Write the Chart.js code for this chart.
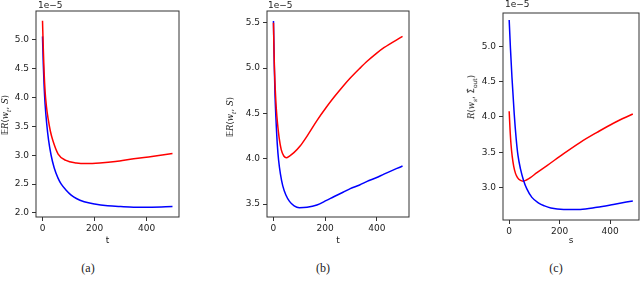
<!DOCTYPE html>
<html lang="en">
<head>
    <meta charset="UTF-8">
    <title>Risk curves</title>
    <script src="https://cdn.jsdelivr.net/npm/chart.js"></script>
    <style>
        body {
            margin: 0;
            background: #fff;
            font-family: 'DejaVu Sans', sans-serif;
        }
        #page {
            position: relative;
            width: 640px;
            height: 287px;
            overflow: hidden;
        }
        canvas, .txt {
            position: absolute;
        }
        .offset {
            font-size: 9px;
            color: #222;
        }
        .ylab {
            font-size: 8.5px;
            color: #222;
            white-space: nowrap;
            transform: translate(-50%, -50%) rotate(-90deg);
        }
        .ylab i { font-family: 'DejaVu Serif', serif; }
        .ylab sub { font-size: 6px; }
        .cap {
            font-family: 'Liberation Serif', 'DejaVu Serif', serif;
            font-size: 12px;
            color: #222;
            transform: translate(-50%, -50%);
        }
    </style>
</head>
<body>
<div id="page">
    <canvas id="chartA" width="190" height="250" style="left:0;top:0"></canvas>
    <canvas id="chartB" width="190" height="250" style="left:231px;top:0"></canvas>
    <canvas id="chartC" width="173" height="250" style="left:467px;top:0"></canvas>

    <div class="txt offset" style="left:38px;top:0">1e−5</div>
    <div class="txt offset" style="left:268px;top:0">1e−5</div>
    <div class="txt offset" style="left:505px;top:-1px">1e−5</div>

    <div class="txt ylab" style="left:6px;top:115px">𝔼<i>R</i>(<i>w<sub>t</sub></i>, <i>S</i>)</div>
    <div class="txt ylab" style="left:231px;top:117px">𝔼<i>R</i>(<i>w<sub>t</sub></i>, <i>S</i>)</div>
    <div class="txt ylab" style="left:472px;top:97px"><i>R</i>(<i>w<sub>s</sub></i>, Σ̂<sub>out</sub>)</div>

    <div class="txt cap" style="left:88px;top:268px">(a)</div>
    <div class="txt cap" style="left:323px;top:268px">(b)</div>
    <div class="txt cap" style="left:556px;top:268px">(c)</div>
</div>
<script>
    // values are in units of 1e-5
    // panel (a)
    const tRedA  = [0, 3, 6, 10, 15, 22, 30, 40, 60, 90, 130, 170, 220, 280, 350, 420, 499];
    const redA   = [5.33, 4.85, 4.45, 4.10, 3.85, 3.62, 3.42, 3.25, 3.02, 2.91, 2.865, 2.855, 2.865, 2.89, 2.94, 2.98, 3.03];
    const tBlueA = [0, 3, 6, 10, 16, 23, 33, 45, 60, 72, 90, 110, 130, 160, 200, 250, 300, 350, 420, 499];
    const blueA  = [5.06, 4.58, 4.22, 3.88, 3.55, 3.27, 3.00, 2.78, 2.60, 2.50, 2.40, 2.31, 2.25, 2.195, 2.155, 2.125, 2.11, 2.10, 2.10, 2.11];
    const yTicksA = [2.0, 2.5, 3.0, 3.5, 4.0, 4.5, 5.0];

    // panel (b)
    const tRedB  = [0, 2, 4, 7, 11, 16, 22, 30, 40, 50, 62, 80, 103, 130, 168, 205, 233, 269, 297, 333, 362, 397, 427, 499];
    const redB   = [5.50, 5.20, 4.98, 4.76, 4.55, 4.38, 4.23, 4.10, 4.03, 4.01, 4.03, 4.07, 4.14, 4.25, 4.42, 4.57, 4.675, 4.80, 4.89, 4.995, 5.075, 5.16, 5.225, 5.35];
    const tBlueB = [0, 3, 6, 10, 15, 20, 27, 36, 48, 62, 80, 100, 130, 168, 205, 233, 269, 297, 333, 362, 397, 427, 499];
    const blueB  = [5.52, 5.05, 4.70, 4.42, 4.15, 3.98, 3.83, 3.70, 3.60, 3.53, 3.48, 3.46, 3.465, 3.49, 3.54, 3.58, 3.63, 3.67, 3.71, 3.75, 3.79, 3.83, 3.92];
    const yTicksB = [3.5, 4.0, 4.5, 5.0, 5.5];

    // panel (c)
    const sRedC  = [0, 3, 7, 12, 18, 25, 33, 45, 55, 70, 84, 110, 150, 216, 282, 348, 413, 490];
    const redC   = [4.08, 3.85, 3.62, 3.44, 3.30, 3.20, 3.14, 3.10, 3.09, 3.11, 3.14, 3.21, 3.31, 3.48, 3.64, 3.78, 3.91, 4.04];
    const sBlueC = [0, 5, 11, 20, 28, 35, 45, 57, 70, 90, 117, 140, 165, 216, 282, 348, 413, 490];
    const blueC  = [5.37, 4.97, 4.56, 4.04, 3.68, 3.45, 3.26, 3.10, 2.98, 2.86, 2.78, 2.74, 2.71, 2.69, 2.69, 2.72, 2.76, 2.81];
    const yTicksC = [3.0, 3.5, 4.0, 4.5, 5.0];

    const xTicks = [0, 200, 400];

    const tickFont = { family: 'DejaVu Sans', size: 9 };
    const ink = '#222';

    // matplotlib-style box around the plot area
    const frame = {
        id: 'frame',
        afterDatasetsDraw(chart) {
            const { ctx, chartArea: a } = chart;
            ctx.save();
            ctx.strokeStyle = '#333';
            ctx.lineWidth = 1;
            ctx.strokeRect(a.left, a.top, a.right - a.left, a.bottom - a.top);
            ctx.restore();
        }
    };

    function series(xs, ys, color) {
        return {
            data: xs.map((x, i) => ({ x: x, y: ys[i] })),
            borderColor: color,
            borderWidth: 1.5,
            pointRadius: 0,
            fill: false,
            cubicInterpolationMode: 'monotone'
        };
    }

    function makeChart(id, cfg) {
        return new Chart(document.getElementById(id), {
            type: 'line',
            data: { datasets: cfg.datasets },
            options: {
                responsive: false,
                animation: false,
                layout: { padding: { left: 0, right: cfg.padRight, top: cfg.padTop, bottom: 0 } },
                plugins: { legend: { display: false }, tooltip: { enabled: false } },
                scales: {
                    x: {
                        type: 'linear',
                        min: cfg.xMin,
                        max: cfg.xMax,
                        afterBuildTicks: s => { s.ticks = xTicks.map(v => ({ value: v })); },
                        afterFit: s => { s.height = cfg.xHeight; },
                        ticks: { font: tickFont, color: ink, padding: 2, maxRotation: 0, callback: v => String(v) },
                        grid: { drawOnChartArea: false, drawTicks: true, tickLength: 4, color: '#333' },
                        border: { display: false },
                        title: { display: true, text: cfg.xTitle, font: tickFont, color: ink, padding: { top: 0, bottom: 4 } }
                    },
                    y: {
                        type: 'linear',
                        min: cfg.yMin,
                        max: cfg.yMax,
                        afterBuildTicks: s => { s.ticks = cfg.yTicks.map(v => ({ value: v })); },
                        afterFit: s => { s.width = 36; },
                        ticks: { font: tickFont, color: ink, padding: 3, callback: v => v.toFixed(1) },
                        grid: { drawOnChartArea: false, drawTicks: true, tickLength: 4, color: '#333' },
                        border: { display: false }
                    }
                }
            },
            plugins: [frame]
        });
    }

    makeChart('chartA', {
        datasets: [series(tRedA, redA, '#ff0000'), series(tBlueA, blueA, '#0000ff')],
        xMin: -25, xMax: 524, yMin: 1.93, yMax: 5.50, yTicks: yTicksA,
        padRight: 11, padTop: 11, xHeight: 33, xTitle: 't'
    });

    makeChart('chartB', {
        datasets: [series(tRedB, redB, '#ff0000'), series(tBlueB, blueB, '#0000ff')],
        xMin: -25, xMax: 524, yMin: 3.357, yMax: 5.63, yTicks: yTicksB,
        padRight: 12, padTop: 11, xHeight: 33, xTitle: 't'
    });

    makeChart('chartC', {
        datasets: [series(sBlueC, blueC, '#0000ff'), series(sRedC, redC, '#ff0000')],
        xMin: -24.5, xMax: 514.5, yMin: 2.54, yMax: 5.47, yTicks: yTicksC,
        padRight: 1, padTop: 13, xHeight: 30, xTitle: 's'
    });
</script>
</body>
</html>
